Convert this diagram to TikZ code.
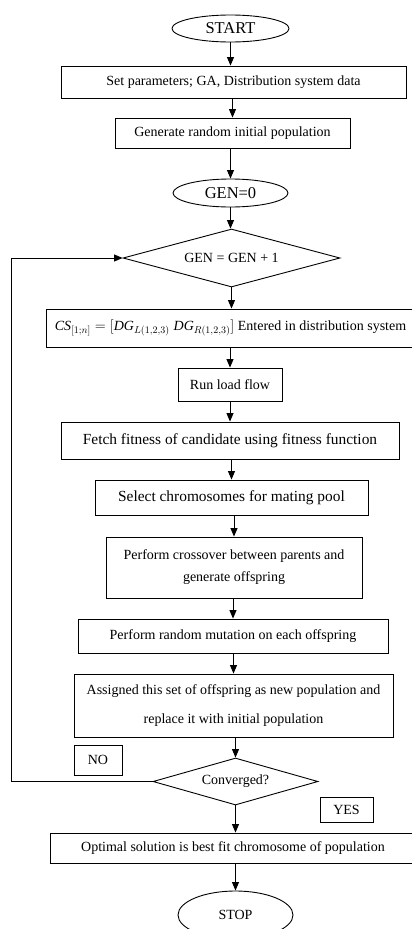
\documentclass[tikz,border=0pt]{standalone}
\usepackage{fontspec}
\setmainfont{Liberation Serif}
\usetikzlibrary{shapes.geometric,arrows.meta}
\begin{document}
\begin{tikzpicture}[x=1pt,y=-1pt,
  box/.style={draw,line width=0.9pt,rectangle,inner sep=0pt,align=center,font=\fontsize{14}{17}\selectfont},
  oval/.style={draw,line width=0.9pt,ellipse,inner sep=0pt,font=\fontsize{14}{17}\selectfont},
  dia/.style={draw,line width=0.9pt,diamond,inner sep=0pt,font=\fontsize{14}{17}\selectfont},
  arr/.style={line width=1pt,-{Triangle[length=8.5pt,width=7pt]}},
  lin/.style={line width=1pt}]
\useasboundingbox (0,0) rectangle (412,929);
\clip (0,0) rectangle (412,929);
\node[oval,minimum width=117pt,minimum height=27pt,font=\fontsize{16.5}{19}\selectfont] (start) at (230.5,28.5) {START};
\node[box,minimum width=345pt,minimum height=32pt] (set) at (233.5,82) {Set parameters; GA, Distribution system data};
\node[box,minimum width=235pt,minimum height=30pt] (gen) at (232.5,133) {Generate random initial population};
\node[oval,minimum width=115pt,minimum height=28pt,font=\fontsize{16.5}{19}\selectfont] (gen0) at (230.5,193) {GEN=0};
\node[dia,minimum width=217pt,minimum height=58pt,aspect=3.74] (d1) at (231.5,258) {GEN = GEN + 1};
\node[box,minimum width=369pt,minimum height=38pt] (cs) at (230.5,328) {$\mathit{CS}_{[1;n]}=\bigl[\mathit{DG}_{L(1,2,3)}\;\mathit{DG}_{R(1,2,3)}\bigr]$ Entered in distribution system};
\node[box,minimum width=104pt,minimum height=33pt] (run) at (230,384.5) {Run load flow};
\node[box,minimum width=338pt,minimum height=37pt,font=\fontsize{15.4}{18}\selectfont] (fetch) at (230,440.5) {Fetch fitness of candidate using fitness function};
\node[box,minimum width=273pt,minimum height=35pt,font=\fontsize{15.4}{18}\selectfont] (select) at (231.5,497.5) {Select chromosomes for mating pool};
\node[box,minimum width=256pt,minimum height=61pt,font=\fontsize{14}{22}\selectfont] (cross) at (234,567.5) {Perform crossover between parents and\\generate offspring};
\node[box,minimum width=310pt,minimum height=34pt] (mut) at (233,636) {Perform random mutation on each offspring};
\node[box,minimum width=319pt,minimum height=63pt,font=\fontsize{14}{29}\selectfont] (assign) at (233.5,705.5) {Assigned this set of offspring as new population and\\replace it with initial population};
\node[box,minimum width=48pt,minimum height=30pt] (no) at (98,760) {NO};
\node[dia,minimum width=165pt,minimum height=47pt,aspect=3.5] (d2) at (235.5,781.5) {Converged?};
\node[box,minimum width=53pt,minimum height=25pt] (yes) at (346.5,809.5) {YES};
\node[box,minimum width=366pt,minimum height=30pt] (opt) at (233,848) {Optimal solution is best fit chromosome of population};
\node[oval,minimum width=115pt,minimum height=48pt] (stop) at (235.5,915) {STOP};
\coordinate (lb) at (11,781.5);
\coordinate (lt) at (11,258);
\draw[arr] (start.south) -- (start.south |- set.north);
\draw[arr] (set.south -| gen.north) -- (gen.north);
\draw[arr] (gen.south -| gen0.north) -- (gen0.north);
\draw[arr] (gen0.south) -- (gen0.south |- d1.north);
\draw[arr] (d1.south) -- (d1.south |- cs.north);
\draw[arr] (cs.south -| run.north) -- (run.north);
\draw[arr] (run.south) -- (run.south |- fetch.north);
\draw[arr] (fetch.south -| select.north) -- (select.north);
\draw[arr] (select.south -| cross.north) -- (cross.north);
\draw[arr] (cross.south -| mut.north) -- (mut.north);
\draw[arr] (mut.south -| assign.north) -- (assign.north);
\draw[arr] (assign.south -| d2.north) -- (d2.north);
\draw[arr] (d2.south) -- (d2.south |- opt.north);
\draw[arr] (opt.south -| stop.north) -- (stop.north);
\draw[arr] (d2.west) -- (lb) -- (lt) -- (d1.west);
\end{tikzpicture}
\end{document}
